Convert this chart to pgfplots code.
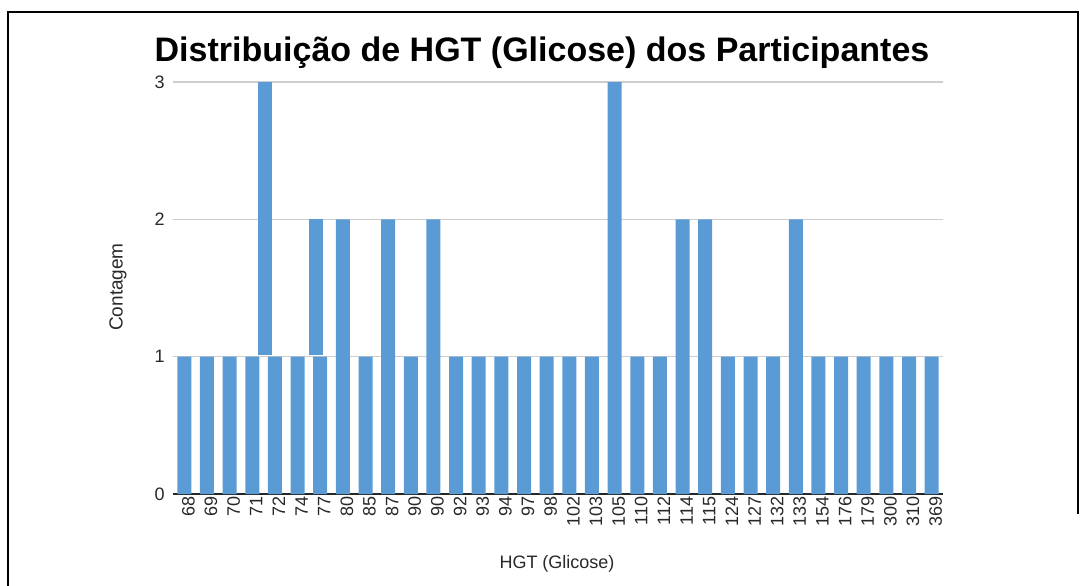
\documentclass[border=0pt]{standalone}
\usepackage{pgfplots}
\pgfplotsset{compat=1.18}
\usepackage{fontspec}
\setmainfont{Liberation Sans}
\definecolor{barblue}{RGB}{91,155,213}
\definecolor{gridgray}{RGB}{205,205,205}
\definecolor{labelgray}{RGB}{40,40,40}
\begin{document}
\begin{tikzpicture}
\useasboundingbox (-86.5pt,-45.5pt) rectangle (456pt,247pt);
\draw[line width=1.4pt] (-82.5pt,-46pt) -- (-82.5pt,241pt) -- (452.5pt,241pt) -- (452.5pt,-10pt);
\begin{axis}[
  at={(0pt,0pt)}, anchor=south west,
  scale only axis,
  width=385pt, height=206pt,
  xmin=-0.5, xmax=33.5,
  ymin=0, ymax=3,
  ytick={0,1,2,3},
  /pgf/number format/assume math mode=true,
  ymajorgrids,
  grid style={gridgray, line width=0.7pt},
  separate axis lines,
  axis x line*=bottom,
  axis y line*=left,
  y axis line style={draw=none},
  x axis line style={black!85, line width=0.8pt, -},
  major tick length=0pt,
  xtick={0,...,33},
  xticklabels={68,69,70,71,72,74,77,80,85,87,90,90,92,93,94,97,98,102,103,105,110,112,114,115,124,127,132,133,154,176,179,300,310,369},
  xticklabel style={rotate=90, anchor=east, font=\fontsize{9}{9}\selectfont, text=labelgray, inner sep=1pt, yshift=-2pt},
  yticklabel style={font=\fontsize{9}{9}\selectfont, text=labelgray, inner sep=1pt, xshift=-3pt},
]
% contagem por valor de HGT
\addplot[ybar, bar width=7pt, fill=barblue, draw=none] coordinates {
  (0,1) (1,1) (2,1) (3,1) (4,1) (5,1) (6,1) (7,2) (8,1) (9,2)
  (10,1) (11,2) (12,1) (13,1) (14,1) (15,1) (16,1) (17,1) (18,1) (19,3)
  (20,1) (21,1) (22,2) (23,2) (24,1) (25,1) (26,1) (27,2) (28,1) (29,1)
  (30,1) (31,1) (32,1) (33,1)};
% partes superiores deslocadas (72 e 77)
\addplot[fill=barblue, draw=none] coordinates {(3.27,1.01) (3.27,3) (3.89,3) (3.89,1.01)} --cycle;
\addplot[fill=barblue, draw=none] coordinates {(5.49,1.01) (5.49,2) (6.11,2) (6.11,1.01)} --cycle;
\end{axis}
\node[anchor=base, font=\bfseries\fontsize{17}{17}\selectfont] at (184.5pt,216pt) {Distribuição de HGT (Glicose) dos Participantes};
\node[anchor=base, font=\fontsize{9}{9}\selectfont, text=labelgray] at (192pt,-37pt) {HGT (Glicose)};
\node[rotate=90, font=\fontsize{9.5}{9.5}\selectfont, text=labelgray] at (-27.5pt,103.5pt) {Contagem};
\end{tikzpicture}
\end{document}
